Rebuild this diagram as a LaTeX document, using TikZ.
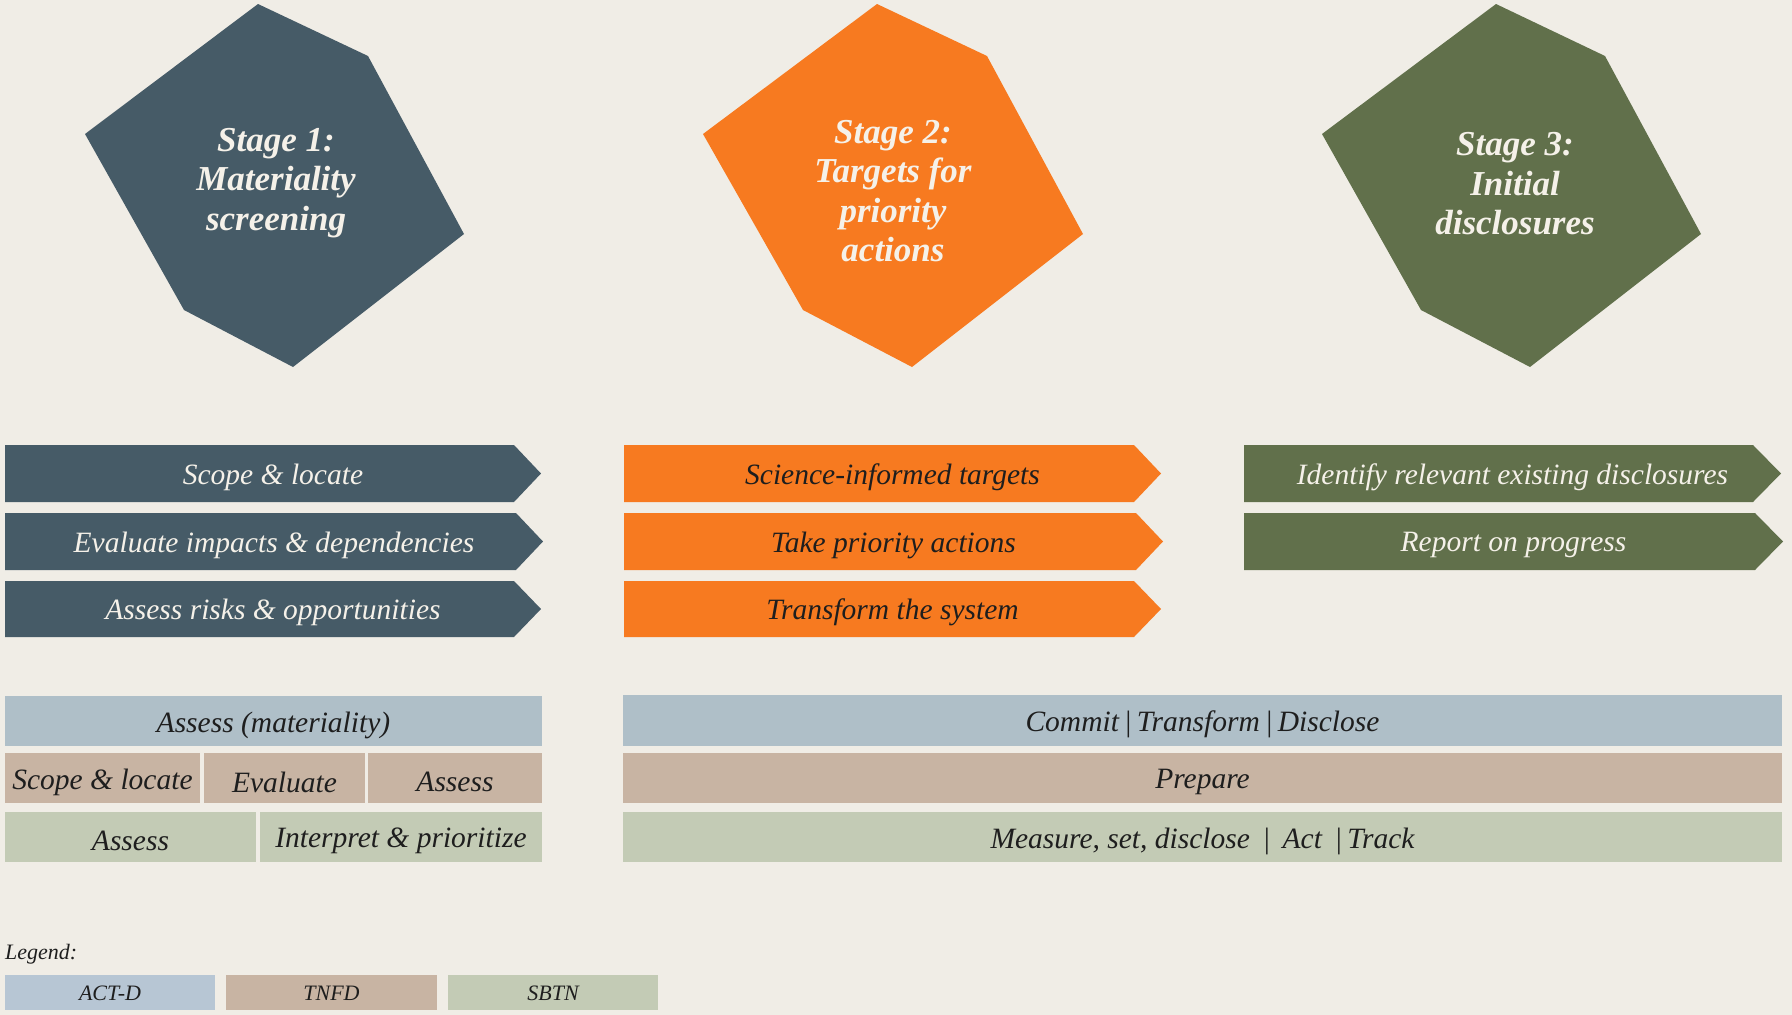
\documentclass[tikz,border=0pt]{standalone}
\usepackage{fontspec}
\setmainfont{Liberation Serif}
\definecolor{bgc}{HTML}{F0EDE6}
\definecolor{slatec}{HTML}{465B67}
\definecolor{orangec}{HTML}{F77A20}
\definecolor{olivec}{HTML}{61704B}
\definecolor{bluec}{HTML}{AFBFC8}
\definecolor{tanc}{HTML}{C8B4A3}
\definecolor{sagec}{HTML}{C3CBB5}
\definecolor{legbluec}{HTML}{B7C6D4}
\definecolor{lighttxt}{HTML}{F5F1E9}
\definecolor{darktxt}{HTML}{1E1E1E}
\newcommand{\mychev}[9]{%
  \fill[#2] (#3,#6) -- (#4,#6) -- (#5,{(#6+#7)/2}) -- (#4,#7) -- (#3,#7) -- cycle;
  \node[#8] (#1) at ({(#3+#5)/2},{(#6+#7)/2}) {#9};}
\newcommand{\mycell}[7]{%
  \fill[#2] (#3,#4) rectangle (#5,#6);
  \node[celltxt] (#1) at ({(#3+#5)/2},{(#4+#6)/2}) {#7};}
\newcommand{\mylegcell}[7]{%
  \fill[#2] (#3,#4) rectangle (#5,#6);
  \node[legtxt] (#1) at ({(#3+#5)/2},{(#4+#6)/2}) {#7};}
\begin{document}
\begin{tikzpicture}[x=1pt,y=-1pt,
  stagetxt/.style={text=lighttxt, align=center, inner sep=0pt,
    font=\fontsize{35}{39.5}\selectfont\bfseries\itshape},
  lightarr/.style={text=lighttxt, inner sep=0pt, yshift=-3.5pt, font=\fontsize{29.5}{32}\selectfont\itshape},
  darkarr/.style={text=darktxt, inner sep=0pt, yshift=-3.5pt, font=\fontsize{29.5}{32}\selectfont\itshape},
  celltxt/.style={text=darktxt, inner sep=0pt, yshift=-4pt, font=\fontsize{29.5}{32}\selectfont\itshape},
  legtxt/.style={text=darktxt, inner sep=0pt, yshift=-1pt, font=\fontsize{22}{24}\selectfont\itshape}]
\useasboundingbox (0,0) rectangle (1792,1015);
\fill[bgc] (0,0) rectangle (1792,1015);

% Stage hexagons
\fill[slatec] (258,4) -- (368,56) -- (464,234) -- (293,367) -- (184,310) -- (85,134) -- cycle;
\node[stagetxt] (s1) at (276,183) {Stage 1:\\Materiality\\screening};
\fill[orangec] (877,4) -- (987,56) -- (1083,234) -- (912,367) -- (803,310) -- (703,134) -- cycle;
\node[stagetxt] (s2) at (893,191) {Stage 2:\\Targets for\\priority\\actions};
\fill[olivec] (1496,4) -- (1605,56) -- (1701,234) -- (1530,367) -- (1421,310) -- (1322,134) -- cycle;
\node[stagetxt] (s3) at (1515,184) {Stage 3:\\Initial\\disclosures};

% Stage 1 arrows
\mychev{a11}{slatec}{5}{514}{541}{445}{502}{lightarr}{Scope \& locate}
\mychev{a12}{slatec}{5}{516}{543}{513}{570}{lightarr}{Evaluate impacts \& dependencies}
\mychev{a13}{slatec}{5}{514}{541}{581}{637}{lightarr}{Assess risks \& opportunities}
% Stage 2 arrows
\mychev{a21}{orangec}{624}{1134}{1161}{445}{502}{darkarr}{Science-informed targets}
\mychev{a22}{orangec}{624}{1136}{1163}{513}{570}{darkarr}{Take priority actions}
\mychev{a23}{orangec}{624}{1134}{1161}{581}{637}{darkarr}{Transform the system}
% Stage 3 arrows
\mychev{a31}{olivec}{1244}{1753}{1781}{445}{502}{lightarr}{Identify relevant existing disclosures}
\mychev{a32}{olivec}{1244}{1755}{1783}{513}{570}{lightarr}{Report on progress}

% Left table
\mycell{t1}{bluec}{5}{696}{542}{746}{Assess (materiality)}
\mycell{t2}{tanc}{5}{753}{200}{803}{Scope \& locate}
\mycell{t3}{tanc}{204}{753}{365}{803}{Evaluate}
\mycell{t4}{tanc}{368}{753}{542}{803}{Assess}
\mycell{t5}{sagec}{5}{812}{256}{862}{Assess}
\mycell{t6}{sagec}{260}{812}{542}{862}{Interpret \& prioritize}

% Right table
\mycell{r1}{bluec}{623}{695}{1782}{746}{Commit\,|\,Transform\,|\,Disclose}
\mycell{r2}{tanc}{623}{753}{1782}{803}{Prepare}
\mycell{r3}{sagec}{623}{812}{1782}{862}{Measure, set, disclose \,|\, Act \,|\,Track}

% Legend
\node[legtxt, anchor=west] (leg) at (5,953) {Legend:};
\mylegcell{l1}{legbluec}{5}{975}{215}{1010}{ACT-D}
\mylegcell{l2}{tanc}{226}{975}{437}{1010}{TNFD}
\mylegcell{l3}{sagec}{448}{975}{658}{1010}{SBTN}
\end{tikzpicture}
\end{document}
